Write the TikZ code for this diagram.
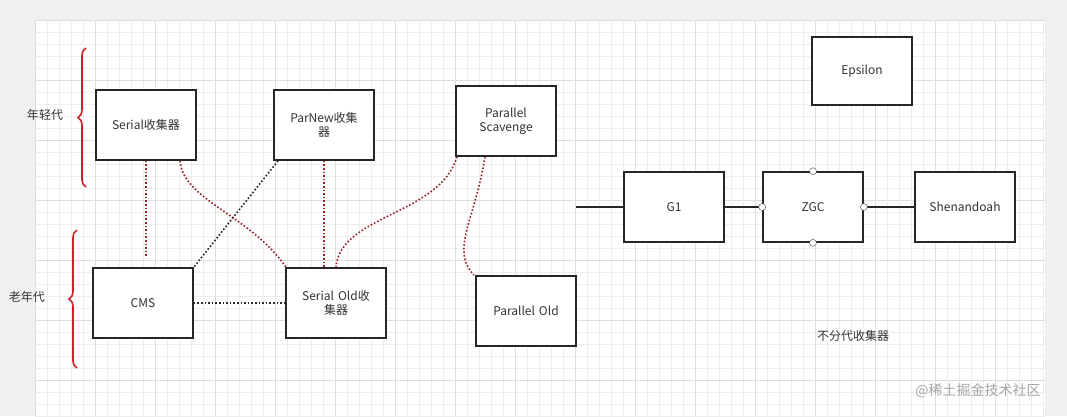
\documentclass[tikz,border=0pt]{standalone}
\usepackage{fontspec}
\setmainfont{Noto Sans CJK SC}
\usetikzlibrary{decorations.pathreplacing}
\definecolor{dred}{HTML}{9A1F2A}
\definecolor{bred}{HTML}{D0202A}
\begin{document}
\begin{tikzpicture}[x=1pt,y=-1pt,
  box/.style={draw=black!85,line width=1.6pt,fill=white,minimum width=100pt,minimum height=70pt,align=center,text width=90pt,font=\fontsize{12}{14}\selectfont,text=black!80},
  rdot/.style={dred,line width=1.6pt,dotted},
  kdot/.style={black!85,line width=1.6pt,dotted},
  br/.style={bred,line width=1.6pt,decorate,decoration={brace,amplitude=8pt}},
  lab/.style={font=\fontsize{12}{14}\selectfont,text=black!80},
  port/.style={circle,draw=black!70,fill=white,inner sep=0pt,minimum size=7pt}]
\useasboundingbox (0,0) rectangle (1067,416);
\fill[black!6] (0,0) rectangle (1067,416);
\fill[white] (35,20) rectangle (1045,416);
\foreach \i in {0,...,84} {\draw[black!7,line width=0.5pt] (35+12*\i,20) -- (35+12*\i,416);}
\foreach \j in {0,...,33} {\draw[black!7,line width=0.5pt] (35,20+12*\j) -- (1045,20+12*\j);}
\foreach \i in {0,...,16} {\draw[black!13,line width=0.6pt] (35+60*\i,20) -- (35+60*\i,416);}
\foreach \j in {0,...,6} {\draw[black!13,line width=0.6pt] (35,20+60*\j) -- (1045,20+60*\j);}
\node[box] (ser) at (146,125) {Serial收集器};
\node[box] (pn) at (324,125) {ParNew收集\\器};
\node[box] (ps) at (506,121) {Parallel\\Scavenge};
\node[box] (cms) at (143,303) {CMS};
\node[box] (so) at (336,303) {Serial Old收\\集器};
\node[box] (po) at (526,311) {Parallel Old};
\node[box,minimum height=68pt] (eps) at (862,71) {Epsilon};
\node[box] (g1) at (674,207) {G1};
\node[box] (zgc) at (813,207) {ZGC};
\node[box] (sh) at (965,207) {Shenandoah};
\coordinate (g1in) at (576,207);
\draw[black!85,line width=1.6pt] (g1in) -- (g1.west);
\draw[black!85,line width=1.6pt] (g1.east) -- (zgc.west);
\draw[black!85,line width=1.6pt] (zgc.east) -- (sh.west);
\node[port] (z1) at (zgc.north) {};
\node[port] (z2) at (zgc.south) {};
\node[port] (z3) at (zgc.west) {};
\node[port] (z4) at (zgc.east) {};
\coordinate (serend) at (146,258);
\draw[rdot] (ser.south) -- (serend);
\draw[rdot] ([xshift=34pt]ser.south) .. controls (183,200) and (250,215) .. ([xshift=-50pt]so.north);
\draw[kdot] ([xshift=-46pt]pn.south) -- (cms.north east);
\draw[rdot] (pn.south) -- ([xshift=-12pt]so.north);
\draw[rdot] ([xshift=-49pt]ps.south) .. controls (440,215) and (340,215) .. (so.north);
\draw[rdot] ([xshift=-21pt]ps.south) .. controls (475,220) and (450,250) .. ([xshift=-52pt]po.north);
\draw[kdot] (cms.east) -- (so.west);
\draw[br] (86,187) -- (86,48);
\draw[br] (77,368) -- (77,230);
\node[lab] (yg) at (45,115) {年轻代};
\node[lab] (og) at (27,297) {老年代};
\node[lab] (nf) at (853,336) {不分代收集器};
\node[font=\fontsize{14}{16}\selectfont,text=black!35] (wm) at (978,391) {@稀土掘金技术社区};
\end{tikzpicture}
\end{document}
